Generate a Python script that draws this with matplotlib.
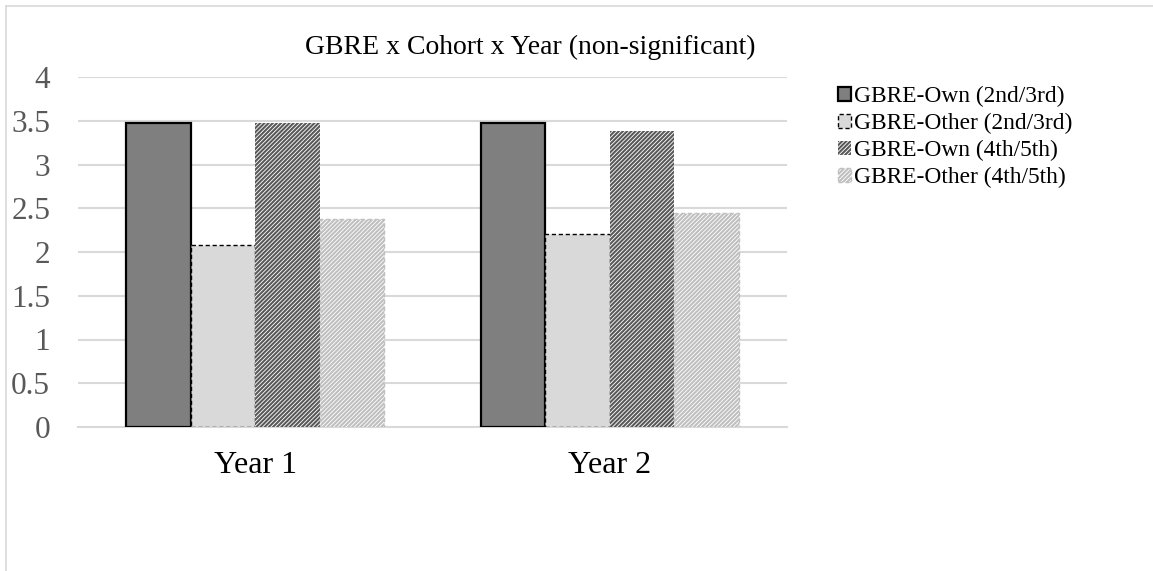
import matplotlib
matplotlib.use("Agg")
import matplotlib.pyplot as plt
import numpy as np
from matplotlib.lines import Line2D

# Mean GBRE ratings by cohort and year
categories = ["Year 1", "Year 2"]
series_names = [
    "GBRE-Own (2nd/3rd)",
    "GBRE-Other (2nd/3rd)",
    "GBRE-Own (4th/5th)",
    "GBRE-Other (4th/5th)",
]
own_23 = [3.48, 3.47]
other_23 = [2.08, 2.21]
own_45 = [3.47, 3.38]
other_45 = [2.38, 2.45]
y_ticks = [0, 0.5, 1, 1.5, 2, 2.5, 3, 3.5, 4]
y_tick_labels = ["0", "0.5", "1", "1.5", "2", "2.5", "3", "3.5", "4"]
title = "GBRE x Cohort x Year (non-significant)"

plt.rcParams["font.family"] = ["Liberation Serif", "DejaVu Serif"]
plt.rcParams["hatch.linewidth"] = 1.5

W, H = 1153, 571
fig = plt.figure(figsize=(W / 100, H / 100), dpi=100)

# plot area in pixel coordinates
left, right, top, bottom = 78, 787, 77, 427
ax = fig.add_axes([left / W, 1 - bottom / H, (right - left) / W, (bottom - top) / H])

x = np.arange(len(categories))
width = 0.182
offsets = np.array([-1.5, -0.5, 0.5, 1.5]) * width

styles = [
    dict(facecolor="#7f7f7f", edgecolor="black", linewidth=1.6),
    dict(facecolor="#d9d9d9", edgecolor="black", linewidth=1.0, linestyle=(0, (3, 2))),
    dict(facecolor="white", edgecolor="#595959", linewidth=0, hatch="////////"),
    dict(facecolor="white", edgecolor="#bfbfbf", linewidth=1.0, linestyle=(0, (3, 2)), hatch="////////"),
]
data = [own_23, other_23, own_45, other_45]

for vals, off, name, st in zip(data, offsets, series_names, styles):
    ax.bar(x + off, vals, width, label=name, zorder=3, **st)

ax.set_xlim(-0.5, len(categories) - 0.5)
ax.set_ylim(0, 4)
ax.set_yticks(y_ticks)
ax.set_yticklabels(y_tick_labels)
ax.set_xticks(x)
ax.set_xticklabels(categories)
ax.yaxis.grid(True, color="#d9d9d9", linewidth=1.5, zorder=0)
ax.set_axisbelow(True)
for s in ["top", "right", "left"]:
    ax.spines[s].set_visible(False)
ax.spines["bottom"].set_color("#d9d9d9")
ax.spines["bottom"].set_linewidth(1.5)
ax.tick_params(axis="y", length=0, pad=20, labelsize=22.5, labelcolor="#595959")
ax.tick_params(axis="x", length=0, pad=17, labelsize=23, labelcolor="black")

fig.text(530 / W, 1 - 47 / H, title, ha="center", va="center", fontsize=20)

leg = fig.legend(
    loc="upper left",
    bbox_to_anchor=(838 / W, 1 - 86 / H),
    frameon=False,
    fontsize=16.8,
    handlelength=0.55,
    handleheight=0.55,
    handletextpad=0.15,
    labelspacing=0.25,
    borderaxespad=0,
    borderpad=0,
)

# chart area border
fig.add_artist(Line2D([5.5 / W, 1], [1 - 5.5 / H] * 2, color="#d9d9d9", linewidth=1.2, transform=fig.transFigure))
fig.add_artist(Line2D([5.5 / W] * 2, [0, 1 - 5.5 / H], color="#d9d9d9", linewidth=1.2, transform=fig.transFigure))

fig.savefig("out.png", dpi=100)
